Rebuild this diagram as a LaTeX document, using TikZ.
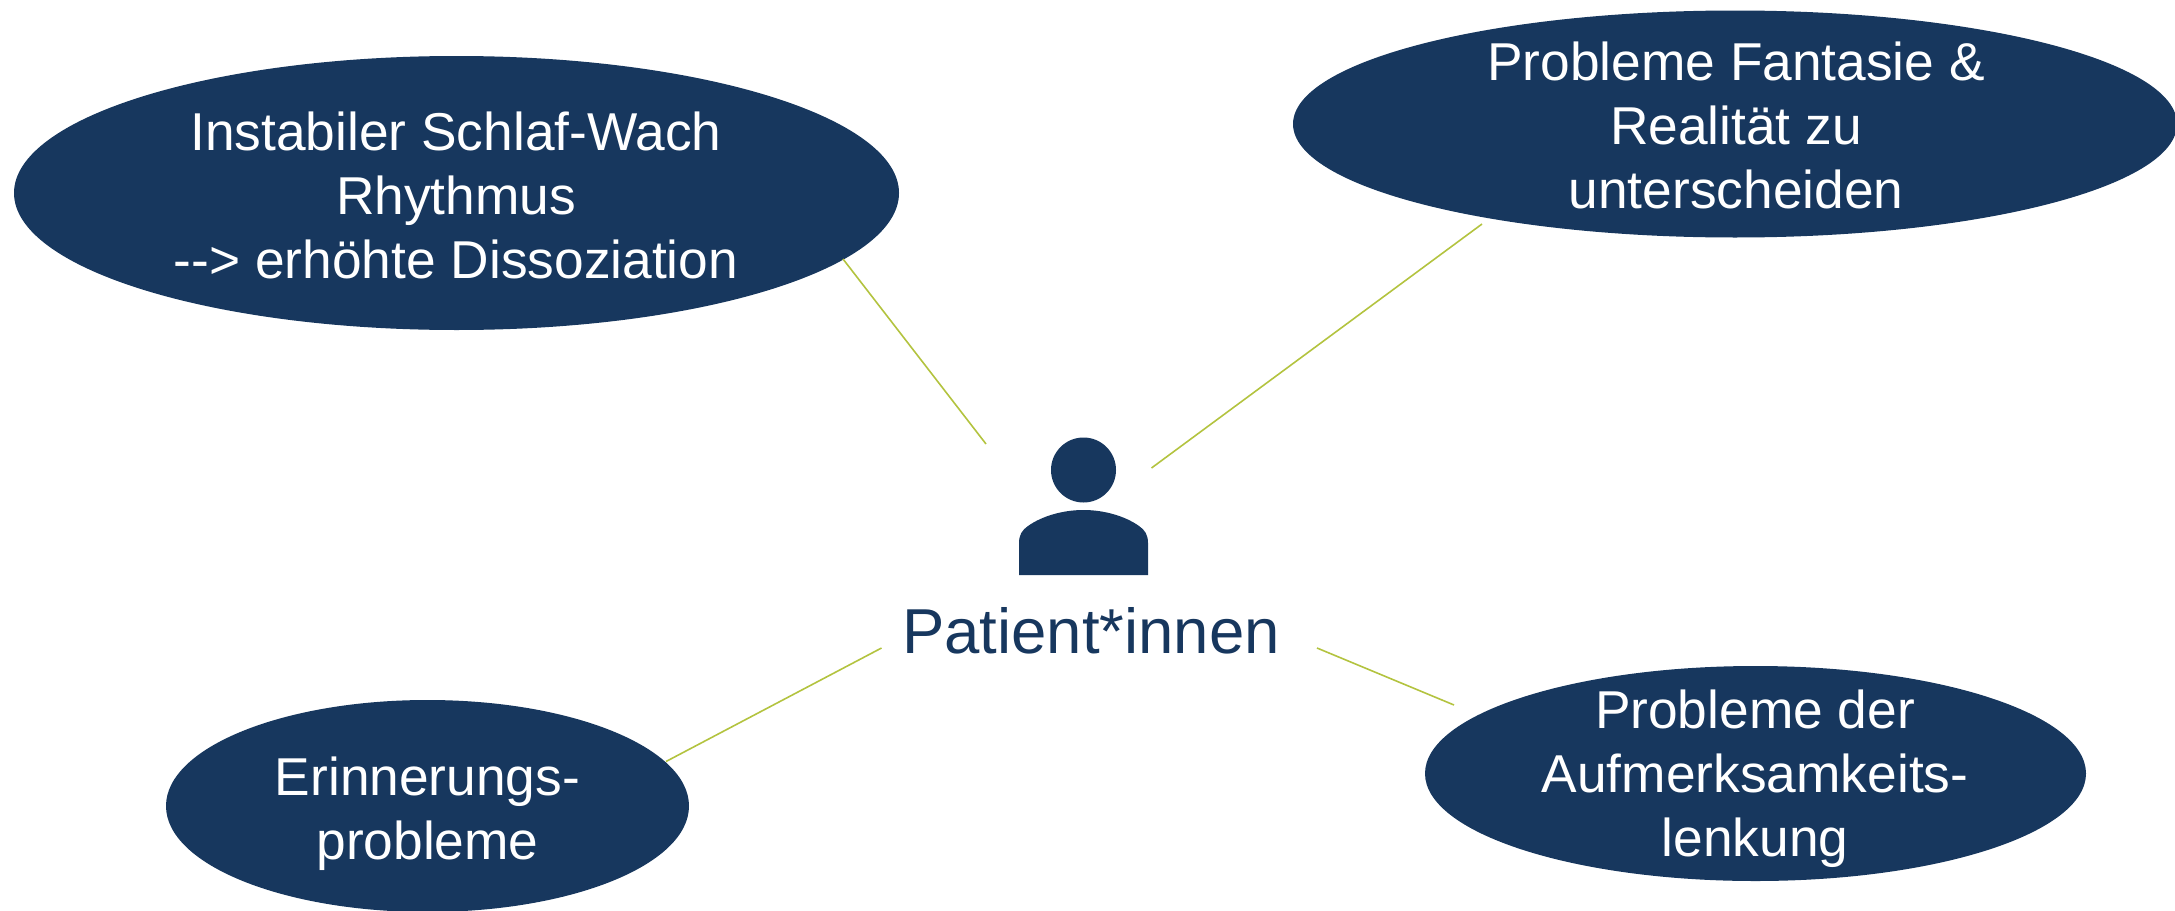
\documentclass[tikz,border=0pt]{standalone}
\usepackage{fontspec}
\setmainfont{Liberation Sans}
\usetikzlibrary{shapes.geometric}
\definecolor{navy}{HTML}{17375E}
\definecolor{lime}{HTML}{B3C33F}
\tikzset{
  x=1pt,y=-1pt,
  blob/.style={ellipse,fill=navy,draw=none,inner sep=0pt,outer sep=0pt},
  blobtext/.style={text=white,align=center,inner sep=0pt,font=\fontsize{53.3}{64}\selectfont},
  link/.style={draw=lime,line width=1.6pt},
  person/.style={fill=navy,draw=none}
}
\begin{document}
\begin{tikzpicture}
\useasboundingbox (0,0) rectangle (2175,910);
\begin{scope}
\clip (0,0) rectangle (2175,910);
\node[blob,minimum width=885pt,minimum height=274pt] (e1) at (456.5,193) {};
\node[blob,minimum width=884pt,minimum height=227pt] (e2) at (1735,124) {};
\node[blob,minimum width=523pt,minimum height=212pt] (e3) at (427.5,806) {};
\node[blob,minimum width=661pt,minimum height=215pt] (e4) at (1755.5,773.5) {};
\end{scope}
\node[blobtext] (t1) at (456,195.5) {Instabiler Schlaf-Wach\\Rhythmus\\-{}-{}> erhöhte Dissoziation};
\node[blobtext] (t2) at (1736,125) {Probleme Fantasie \&\\Realität zu\\unterscheiden};
\node[blobtext] (t3) at (427.5,814) {Erinnerungs-\\probleme};
\node[blobtext] (t4) at (1755,779) {Probleme der\\Aufmerksamkeits-\\lenkung};
\node[text=navy,inner sep=0pt,anchor=base,font=\fontsize{63.5}{70}\selectfont] (p) at (1091,653) {Patient*innen};
\node[circle,fill=navy,inner sep=0pt,minimum size=65pt] (head) at (1083.5,470) {};
\path[person] (1019,575) -- (1019,543) .. controls (1019,535) and (1022,530) .. (1028,526)
  .. controls (1042,516) and (1063,510) .. (1083.5,510)
  .. controls (1104,510) and (1125,516) .. (1139,526)
  .. controls (1145,530) and (1148,535) .. (1148,543) -- (1148,575) -- cycle;
\coordinate (a1) at (843,259);
\coordinate (b1) at (986,444);
\coordinate (a2) at (1482,224);
\coordinate (b2) at (1151.5,468);
\coordinate (a3) at (666,761.5);
\coordinate (b3) at (881.5,648);
\coordinate (a4) at (1454,705);
\coordinate (b4) at (1317,648);
\draw[link] (a1) -- (b1);
\draw[link] (a2) -- (b2);
\draw[link] (a3) -- (b3);
\draw[link] (a4) -- (b4);
\end{tikzpicture}
\end{document}
